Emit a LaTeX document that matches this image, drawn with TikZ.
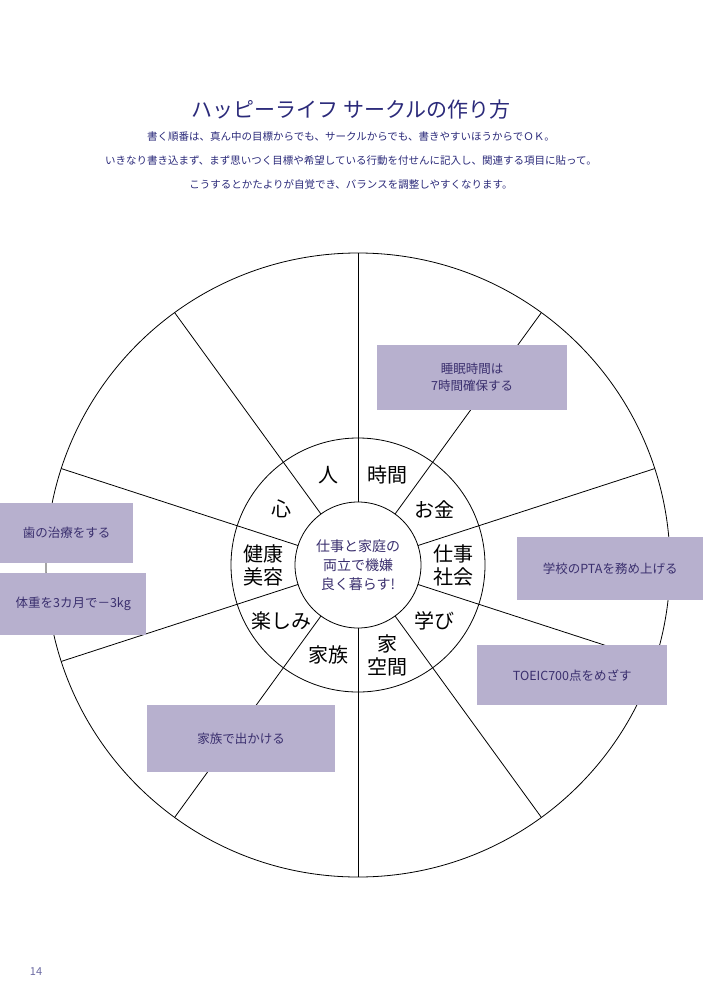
\documentclass[tikz,border=0pt]{standalone}
\usepackage{fontspec}
\setmainfont{Noto Sans CJK JP}
\usetikzlibrary{positioning,calc}
\definecolor{navy}{HTML}{2B2A7A}
\definecolor{note}{HTML}{B7B0CE}
\definecolor{pen}{HTML}{3A2F6E}
\tikzset{
  notebox/.style={fill=note, text=pen, font=\fontsize{12.5}{17}\selectfont, align=center, inner sep=0pt, anchor=north west},
  ringlabel/.style={font=\fontsize{20}{23}\selectfont, align=center, inner sep=0pt},
  lead/.style={text=navy, font=\fontsize{10.5}{12}\selectfont}
}
\begin{document}
\begin{tikzpicture}[x=1pt, y=-1pt]
	\useasboundingbox (0,0) rectangle (703,1000);
	\node[text=navy, font=\fontsize{21}{24}\selectfont] (title) at (351,110) {ハッピーライフ サークルの作り方};
	\node[lead] (lead1) at (351,137) {書く順番は、真ん中の目標からでも、サークルからでも、書きやすいほうからでＯＫ。};
	\node[lead] (lead2) at (351,161) {いきなり書き込まず、まず思いつく目標や希望している行動を付せんに記入し、関連する項目に貼って。};
	\node[lead] (lead3) at (351,185) {こうするとかたよりが自覚でき、バランスを調整しやすくなります。};
	\coordinate (c) at (358,565);
	\draw[thick] (c) circle[radius=312pt];
	\draw[thick] (c) circle[radius=127pt];
	\draw[thick] (c) circle[radius=63pt];
	\foreach \a in {90,126,162,198,234,270,306,342,18,54}
		\draw[thick] ($(c)+(\a:63pt)$) -- ($(c)+(\a:312pt)$);
	\foreach \a/\txt/\nm in {108/人/hito, 72/時間/jikan, 36/お金/okane, 0/仕事\\社会/shigoto, -36/学び/manabi, -72/家\\空間/ie, -108/家族/kazoku, -144/楽しみ/tanoshimi, 180/健康\\美容/kenko, 144/心/kokoro}
		\node[ringlabel] (\nm) at ($(c)+(\a:95pt)$) {\txt};
	\node[text=pen, font=\fontsize{14}{19}\selectfont, align=center] (goal) at (c) {仕事と家庭の\\両立で機嫌\\良く暮らす!};
	\node[notebox, minimum width=190pt, minimum height=65pt] (sleep) at (377,345) {睡眠時間は\\7時間確保する};
	\node[notebox, minimum width=133pt, minimum height=60pt] (teeth) at (0,503) {歯の治療をする};
	\node[notebox, minimum width=146pt, minimum height=62pt] (weight) at (0,573) {体重を3カ月で－3kg};
	\node[notebox, minimum width=186pt, minimum height=63pt] (pta) at (517,537) {学校のPTAを務め上げる};
	\node[notebox, minimum width=190pt, minimum height=60pt] (toeic) at (477,645) {TOEIC700点をめざす};
	\node[notebox, minimum width=188pt, minimum height=67pt] (outing) at (147,705) {家族で出かける};
	\node[text=navy!70, font=\fontsize{11}{13}\selectfont] (page) at (36,972) {14};
\end{tikzpicture}
\end{document}
